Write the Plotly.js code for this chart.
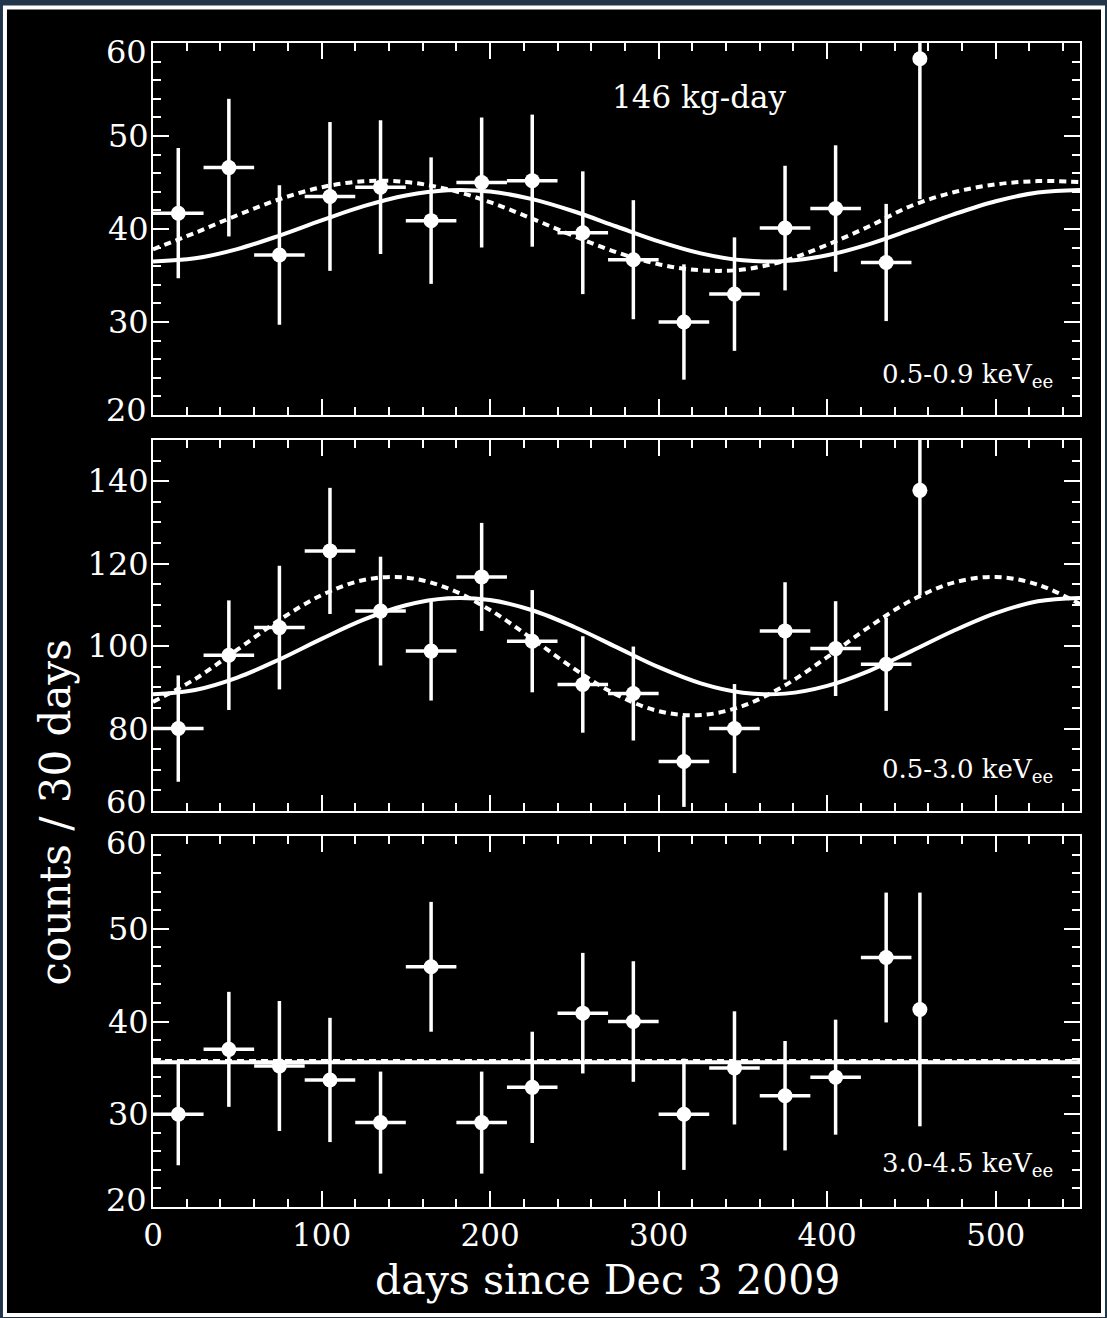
<!DOCTYPE html>
<html>
<head>
<meta charset="utf-8">
<script src="https://cdn.plot.ly/plotly-3.0.1.min.js"></script>
<style>
  html, body { margin: 0; padding: 0; background: #22364a; }
  #chart { width: 1107px; height: 1318px; }
</style>
</head>
<body>
<div id="chart"></div>
<script>
// ---- data ----
const days = [15, 45, 75, 105, 135, 165, 195, 225, 255, 285, 315, 345, 375, 405, 435, 455];
const binHalfWidth = [15, 15, 15, 15, 15, 15, 15, 15, 15, 15, 15, 15, 15, 15, 15, 0];

// 0.5-0.9 keVee
const lowCounts = [41.7, 46.6, 37.2, 43.5, 44.5, 40.9, 45.0, 45.2, 39.6, 36.7, 30.0, 33.0, 40.1, 42.2, 36.4, 58.3];
const lowErr    = [7.0, 7.4, 7.5, 8.0, 7.2, 6.8, 7.0, 7.1, 6.6, 6.4, 6.2, 6.1, 6.7, 6.8, 6.3, 15.1];
// 0.5-3.0 keVee
const midCounts = [80.0, 97.8, 104.5, 123.1, 108.5, 98.8, 116.8, 101.2, 90.7, 88.5, 72.0, 80.0, 103.7, 99.4, 95.6, 137.8];
const midErr    = [12.9, 13.3, 15.0, 15.3, 13.2, 12.0, 13.1, 12.4, 11.7, 11.4, 11.0, 10.8, 11.8, 11.5, 11.3, 25.5];
// 3.0-4.5 keVee
const highCounts = [30.0, 37.0, 35.2, 33.7, 29.1, 45.9, 29.1, 32.9, 40.9, 40.0, 30.0, 35.0, 32.0, 34.0, 46.9, 41.3];
const highErr    = [5.5, 6.2, 7.0, 6.7, 5.5, 7.0, 5.5, 6.0, 6.5, 6.5, 6.0, 6.1, 5.9, 6.2, 7.0, 12.6];

// fitted curves
const fitDays = [0, 25, 50, 75, 100, 125, 150, 175, 200, 225, 250, 275, 300, 325, 350, 375, 400, 425, 450, 475, 500, 525, 550];
const lowSolid  = [36.5, 36.85, 37.84, 39.29, 40.93, 42.46, 43.61, 44.17, 44.03, 43.21, 41.88, 40.27, 38.67, 37.38, 36.63, 36.56, 37.18, 38.38, 39.95, 41.58, 42.99, 43.93, 44.2];
const lowDashed = [37.82, 39.59, 41.48, 43.20, 44.49, 45.14, 45.06, 44.27, 42.88, 41.11, 39.22, 37.50, 36.21, 35.56, 35.64, 36.6, 38.3, 40.3, 42.5, 43.95, 44.8, 45.15, 45.05];
const midSolid  = [88.3, 89.36, 92.37, 96.77, 101.76, 106.42, 109.91, 111.61, 111.17, 108.70, 104.64, 99.75, 94.89, 90.97, 88.69, 88.48, 90.36, 94.02, 98.78, 103.73, 108.01, 110.87, 111.69];
const midDashed = [86.48, 92.04, 99.13, 106.35, 112.38, 116.04, 116.63, 114.03, 108.75, 101.78, 94.47, 88.22, 84.23, 83.27, 85.50, 90.51, 97.35, 104.69, 111.12, 115.42, 116.79, 114.92, 110.20];
const flatDays = [0, 550];
const highSolid  = [35.6, 35.6];
const highDashed = [35.75, 35.75];

// y tick labels drawn by the axes; the end labels (nudged inward in the reference) are annotations
const lowTicks = [30, 40, 50];
const midTicks = [80, 100, 120, 140];
const highTicks = [30, 40, 50];
const lowEnds = [20, 60];
const midEnds = [60];
const highEnds = [20, 60];

const panelLabels = ['0.5-0.9 keV<sub>ee</sub>', '0.5-3.0 keV<sub>ee</sub>', '3.0-4.5 keV<sub>ee</sub>'];
const exposureLabel = '146 kg-day';
const xTitle = 'days since Dec 3 2009';
const yTitle = 'counts / 30 days';

// ---- styling ----
const FONT = 'DejaVu Serif, Liberation Serif, serif';
const W = 'white';
const TICKSIZE = 32;

function points(x, y, err, xa, ya) {
  return {
    type: 'scatter', mode: 'markers', x: x, y: y, xaxis: xa, yaxis: ya,
    marker: { color: W, size: 15 },
    error_y: { type: 'data', array: err, visible: true, color: W, thickness: 3.5, width: 0 },
    error_x: { type: 'data', array: binHalfWidth, visible: true, color: W, thickness: 3.5, width: 0 },
    cliponaxis: true, hoverinfo: 'skip'
  };
}
function curve(x, y, xa, ya, dashed) {
  return {
    type: 'scatter', mode: 'lines', x: x, y: y, xaxis: xa, yaxis: ya,
    line: { color: W, width: 4, shape: 'spline', dash: dashed ? '7px,5px' : 'solid' },
    hoverinfo: 'skip'
  };
}

const data = [
  curve(fitDays, lowDashed, 'x3', 'y3', true),
  curve(fitDays, lowSolid, 'x3', 'y3', false),
  points(days, lowCounts, lowErr, 'x3', 'y3'),
  curve(fitDays, midDashed, 'x2', 'y2', true),
  curve(fitDays, midSolid, 'x2', 'y2', false),
  points(days, midCounts, midErr, 'x2', 'y2'),
  curve(flatDays, highDashed, 'x', 'y', true),
  curve(flatDays, highSolid, 'x', 'y', false),
  points(days, highCounts, highErr, 'x', 'y')
];

function axisBase(extra) {
  return Object.assign({
    showline: true, mirror: 'allticks', linecolor: W, linewidth: 2,
    ticks: 'inside', ticklen: 16, tickwidth: 2, tickcolor: W,
    showgrid: false, zeroline: false, fixedrange: true,
    tickfont: { family: FONT, size: TICKSIZE, color: W }
  }, extra);
}
function xAxis(anchor, labels) {
  return axisBase({
    anchor: anchor, range: [0, 550], dtick: 100, tick0: 0,
    showticklabels: labels, ticklabelstandoff: 0,
    tickfont: { family: FONT, size: 31, color: W },
    minor: { ticks: 'inside', ticklen: 8, tickwidth: 2, tickcolor: W, dtick: 20, showgrid: false }
  });
}
function yAxis(anchor, domain, range, tickvals, minorDtick) {
  return axisBase({
    anchor: anchor, domain: domain, range: range,
    tickmode: 'array', tickvals: tickvals,
    ticklabelstandoff: -4,
    minor: { ticks: 'inside', ticklen: 8, tickwidth: 2, tickcolor: W, dtick: minorDtick, tick0: 0, showgrid: false }
  });
}

function endLabel(yref, y, value) {
  return { xref: 'paper', yref: yref, x: -0.004, y: y, text: String(value), showarrow: false,
    xanchor: 'right', yanchor: 'middle', font: { family: FONT, size: TICKSIZE, color: W } };
}

const layout = {
  width: 1107, height: 1318,
  margin: { l: 153, r: 27, t: 43, b: 111, pad: 0 },
  paper_bgcolor: '#22364a', plot_bgcolor: 'black',
  showlegend: false,
  font: { family: FONT, color: W },
  xaxis: xAxis('y', true),
  xaxis2: Object.assign(xAxis('y2', false), { matches: 'x' }),
  xaxis3: Object.assign(xAxis('y3', false), { matches: 'x' }),
  yaxis: yAxis('x', [0, 0.3187], [20, 60], highTicks, 2),
  yaxis2: yAxis('x2', [0.3402, 0.6589], [60, 150], midTicks, 5),
  yaxis3: yAxis('x3', [0.6804, 1], [20, 60], lowTicks, 2),
  shapes: [{
    type: 'rect', xref: 'paper', yref: 'paper', layer: 'below',
    x0: -0.1597, x1: 1.0248, y0: -0.0928, y1: 1.0305,
    fillcolor: 'black', line: { color: W, width: 4 }
  }],
  annotations: [
    endLabel('y3', 58.98, lowEnds[1]),
    endLabel('y3', 20.55, lowEnds[0]),
    endLabel('y2', 62.3, midEnds[0]),
    endLabel('y', 59.2, highEnds[1]),
    endLabel('y', 20.75, highEnds[0]),
    { xref: 'x3', yref: 'y3', x: 324, y: 54.2, text: exposureLabel, showarrow: false,
      font: { family: FONT, size: 31, color: W }, xanchor: 'center', yanchor: 'middle' },
    { xref: 'x3', yref: 'y3', x: 535, y: 24.3, text: panelLabels[0], showarrow: false,
      font: { family: FONT, size: 26, color: W }, xanchor: 'right', yanchor: 'middle' },
    { xref: 'x2', yref: 'y2', x: 535, y: 69.8, text: panelLabels[1], showarrow: false,
      font: { family: FONT, size: 26, color: W }, xanchor: 'right', yanchor: 'middle' },
    { xref: 'x', yref: 'y', x: 535, y: 24.6, text: panelLabels[2], showarrow: false,
      font: { family: FONT, size: 26, color: W }, xanchor: 'right', yanchor: 'middle' },
    { xref: 'paper', yref: 'paper', x: 0.49, y: -0.0627, text: xTitle, showarrow: false,
      font: { family: FONT, size: 41, color: W }, xanchor: 'center', yanchor: 'middle' },
    { xref: 'paper', yref: 'paper', x: -0.1057, y: 0.339, text: yTitle, showarrow: false, textangle: -90,
      font: { family: FONT, size: 42, color: W }, xanchor: 'center', yanchor: 'middle' }
  ]
};

Plotly.newPlot('chart', data, layout, { staticPlot: true, displayModeBar: false });
</script>
</body>
</html>
